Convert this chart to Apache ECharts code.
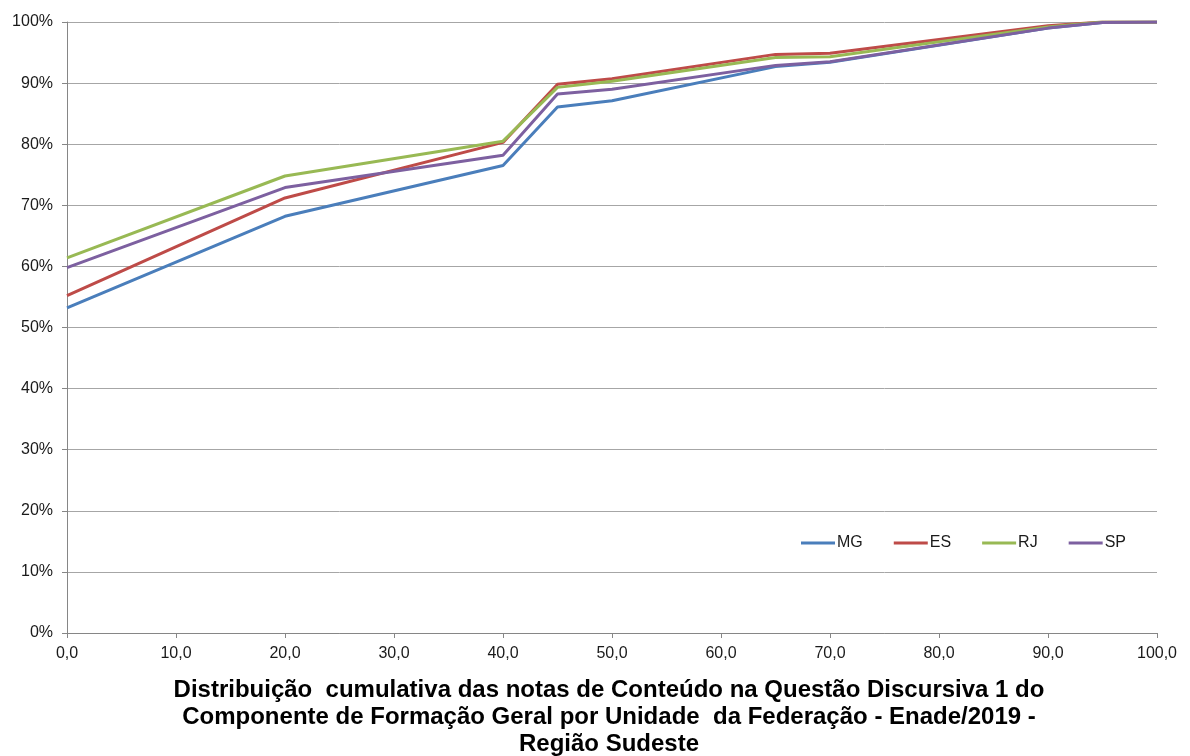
<!DOCTYPE html>
<html>
<head>
<meta charset="utf-8">
<script src="https://cdn.jsdelivr.net/npm/echarts@6/dist/echarts.min.js"></script>
<style>
  html, body { margin: 0; padding: 0; background: #fff; }
  #chart { width: 1190px; height: 756px; }
</style>
</head>
<body>
<div id="chart"></div>
<script>
// Notas (x) and cumulative share of students per state (y, %)
const notas = [0, 20, 40, 45, 50, 65, 70, 90, 95, 100];
const MG = [53.2, 68.2, 76.5, 86.1, 87.1, 92.7, 93.4, 99.0, 99.9, 100];
const ES = [55.2, 71.2, 80.3, 89.8, 90.7, 94.7, 94.9, 99.4, 100, 100];
const RJ = [61.4, 74.8, 80.5, 89.3, 90.3, 94.2, 94.3, 99.2, 100, 100];
const SP = [59.8, 72.9, 78.2, 88.2, 89.0, 92.9, 93.5, 99.0, 99.9, 100];

const seriesDefs = [
  { name: 'MG', data: MG, color: '#4A7EBB' },
  { name: 'ES', data: ES, color: '#BE4B48' },
  { name: 'RJ', data: RJ, color: '#98B954' },
  { name: 'SP', data: SP, color: '#7D60A0' }
];

const titleText = 'Distribuição  cumulativa das notas de Conteúdo na Questão Discursiva 1 do\nComponente de Formação Geral por Unidade  da Federação - Enade/2019 -\nRegião Sudeste';

const font = '"Liberation Sans", Arial, sans-serif';
const chart = echarts.init(document.getElementById('chart'));

chart.setOption({
  animation: false,
  backgroundColor: '#ffffff',
  textStyle: { fontFamily: font },
  title: {
    text: titleText,
    left: 604,
    top: 672,
    textAlign: 'center',
    textStyle: {
      fontFamily: font,
      fontSize: 24,
      fontWeight: 'bold',
      color: '#000000',
      lineHeight: 27
    }
  },
  legend: {
    left: 796,
    top: 530,
    itemWidth: 34,
    itemHeight: 3,
    itemGap: 31,
    icon: 'rect',
    textStyle: { fontFamily: font, fontSize: 16, color: '#1a1a1a', padding: [0, 0, 0, -3] },
    data: seriesDefs.map(s => s.name)
  },
  grid: { left: 67, right: 33, top: 22, bottom: 123, containLabel: false },
  xAxis: {
    type: 'value',
    min: 0,
    max: 100,
    interval: 10,
    axisLine: { show: true, lineStyle: { color: '#868686', width: 1 } },
    axisTick: { show: true, length: 5, lineStyle: { color: '#868686' } },
    splitLine: { show: false },
    axisLabel: {
      fontFamily: font,
      fontSize: 16,
      color: '#1a1a1a',
      margin: 13,
      formatter: v => v.toFixed(1).replace('.', ',')
    }
  },
  yAxis: {
    type: 'value',
    min: 0,
    max: 100,
    interval: 10,
    axisLine: { show: true, lineStyle: { color: '#868686', width: 1 } },
    axisTick: { show: true, length: 5, lineStyle: { color: '#868686' } },
    splitLine: { show: true, lineStyle: { color: '#A6A6A6', width: 1 } },
    axisLabel: {
      fontFamily: font,
      fontSize: 16,
      color: '#1a1a1a',
      margin: 14,
      formatter: v => Math.round(v) + '%'
    }
  },
  series: seriesDefs.map(s => ({
    name: s.name,
    type: 'line',
    data: notas.map((x, i) => [x, s.data[i]]),
    symbol: 'none',
    color: s.color,
    lineStyle: { color: s.color, width: 3 }
  }))
});
</script>
</body>
</html>
